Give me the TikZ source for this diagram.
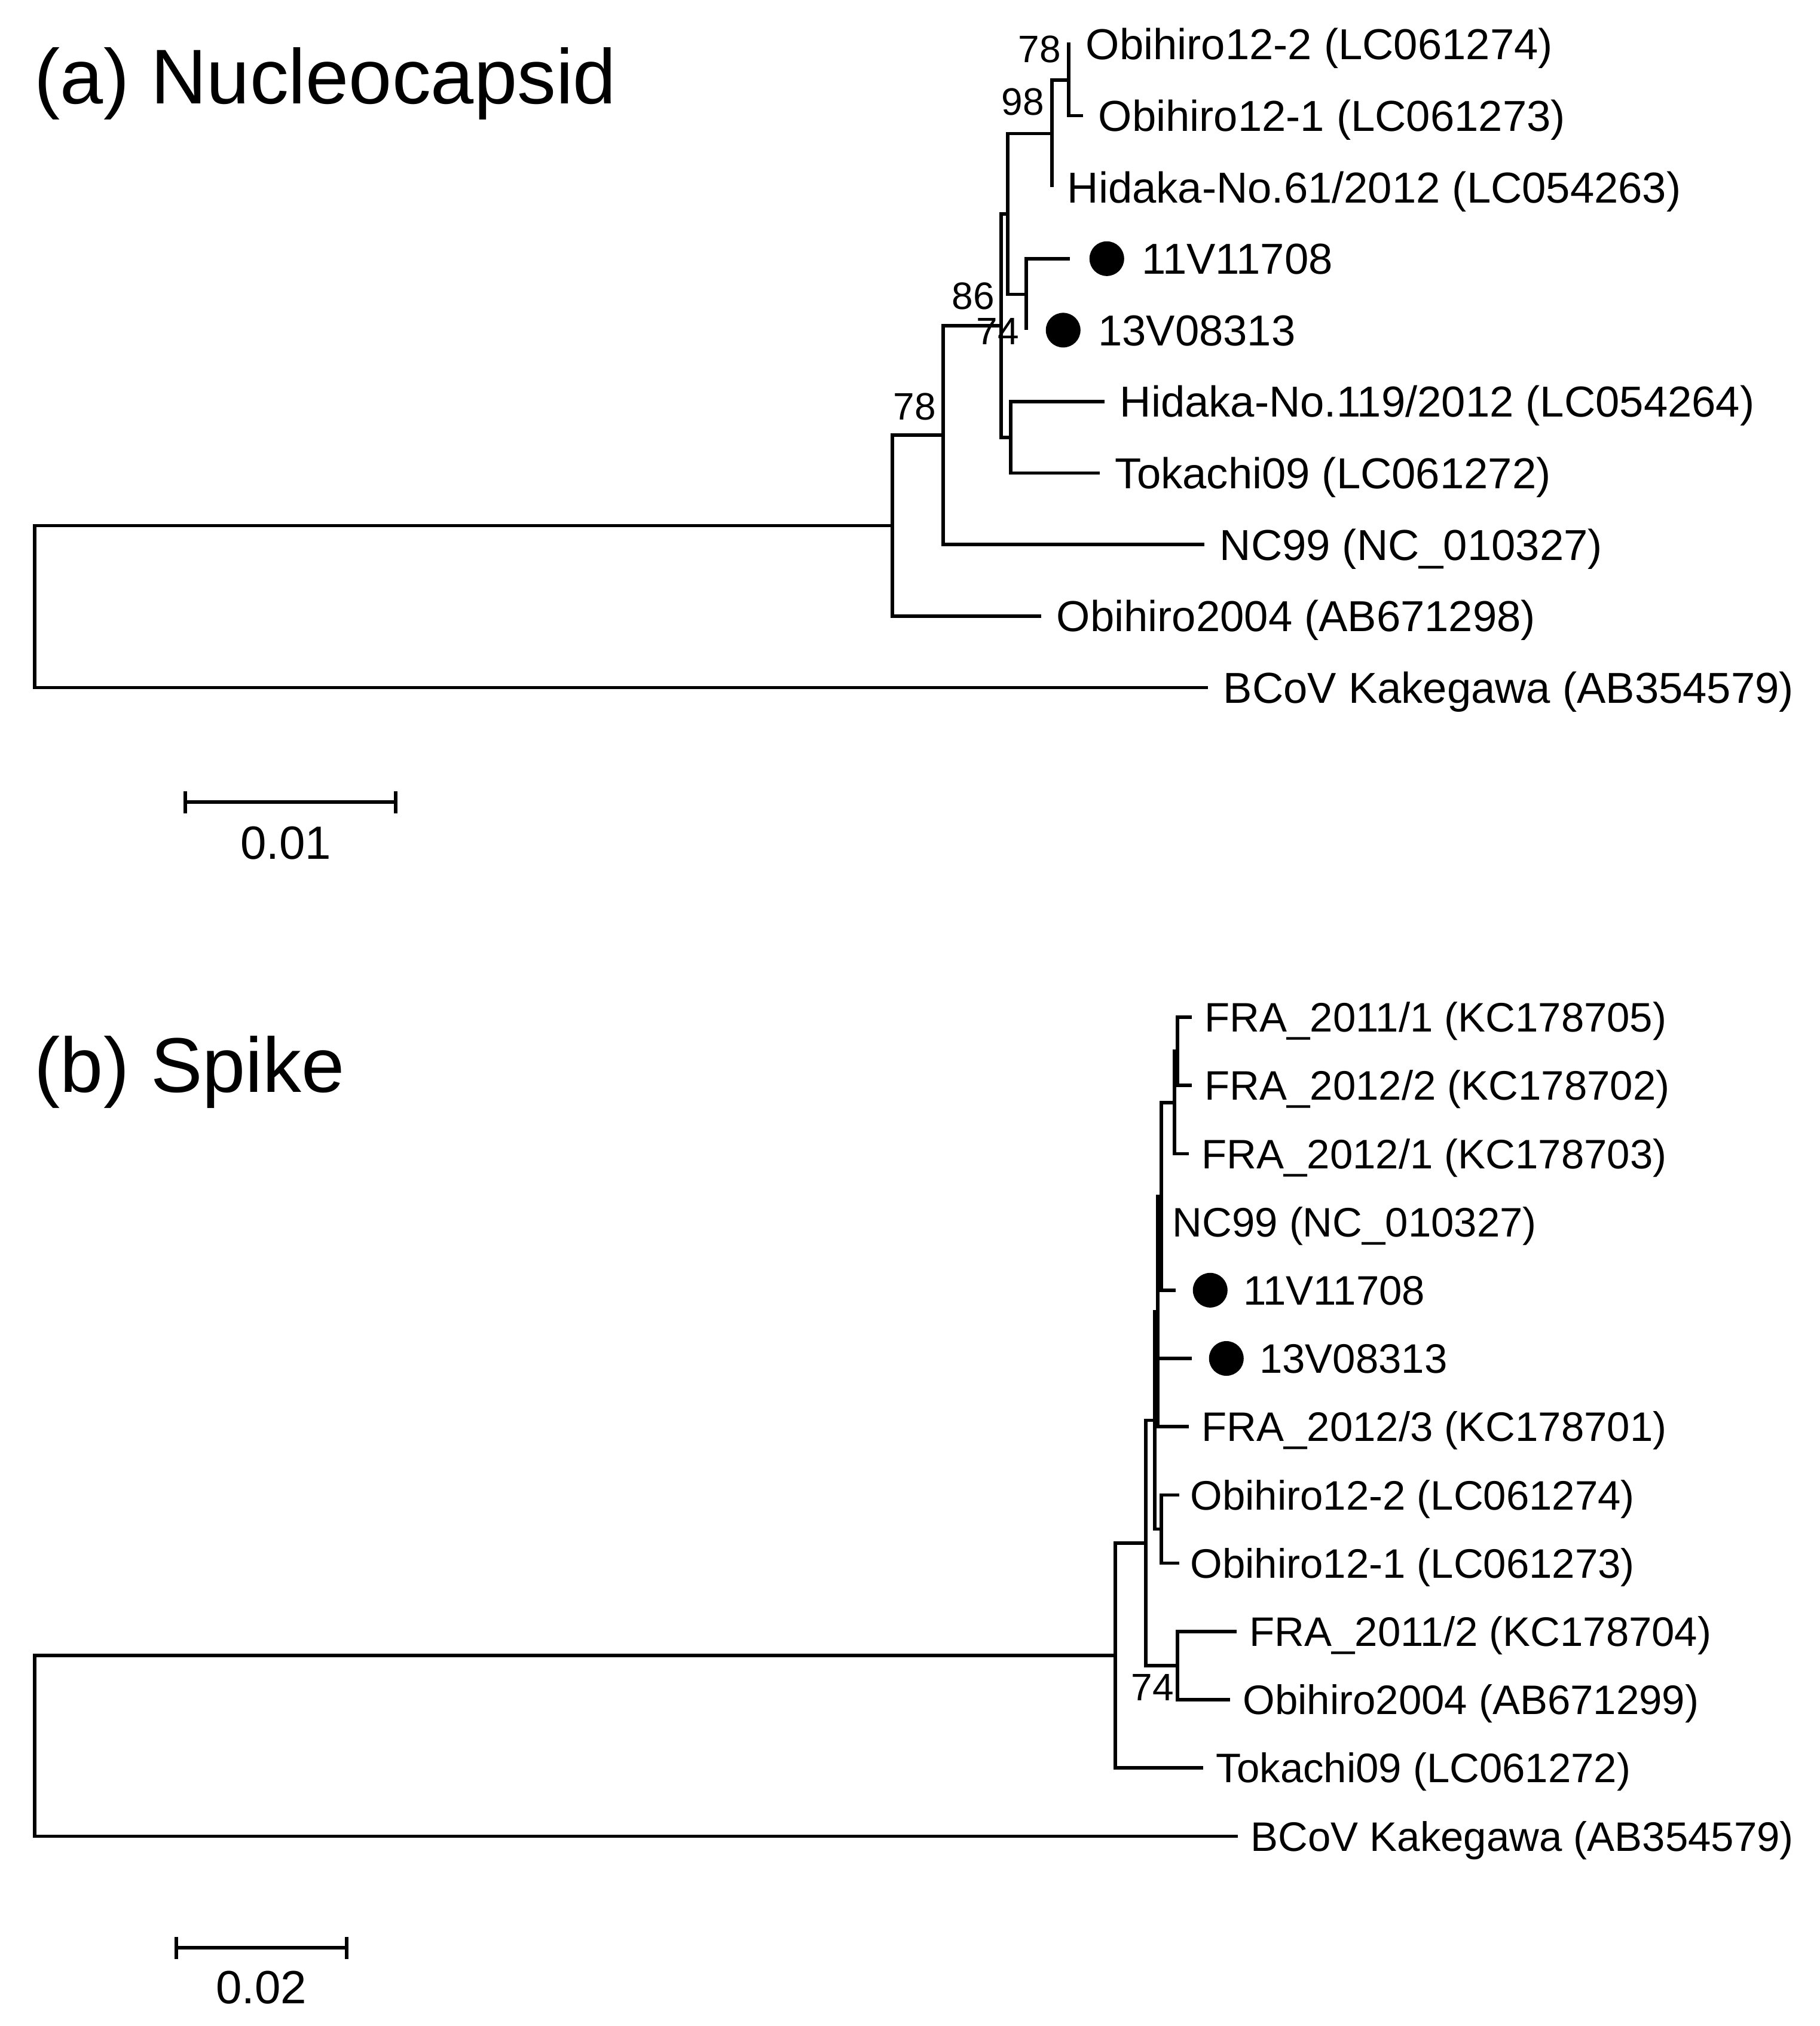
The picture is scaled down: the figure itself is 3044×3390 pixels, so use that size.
\documentclass[tikz,border=0pt]{standalone}
\usepackage{fontspec}
\setmainfont{Liberation Sans}
\usetikzlibrary{positioning}

\begin{document}
\begin{tikzpicture}[x=0.01cm, y=-0.01cm,
            rama/.style={line width=1.6pt},
            hoja/.style={anchor=west, inner sep=0pt, text height=14.75pt, text depth=0pt, font=\fontsize{20.6pt}{24pt}\selectfont},
            hojab/.style={hoja, text height=14pt, font=\fontsize{19.6pt}{23pt}\selectfont},
            punto/.style={circle, fill=black, inner sep=0pt, minimum size=0.58cm},
            boot/.style={inner sep=0pt, text height=13pt, text depth=0pt, font=\fontsize{18.2pt}{21pt}\selectfont},
            titulo/.style={anchor=base west, inner sep=0pt, font=\fontsize{36.9pt}{42pt}\selectfont},
            escala/.style={inner sep=0pt, text height=15.9pt, text depth=0pt, font=\fontsize{22.2pt}{26pt}\selectfont}]

            \useasboundingbox (0,0) rectangle (3044,3390);

            \node[titulo] (tita) at (57,173) {(a) Nucleocapsid};

            \coordinate (ar) at (58,1014.9);
            \coordinate (aa) at (1493,879.4);
            \coordinate (ab) at (1578,728);
            \coordinate (ac) at (1675,545);
            \coordinate (ad) at (1691,731.8);
            \coordinate (ae) at (1686,358);
            \coordinate (af) at (1760,223.5);
            \coordinate (ag) at (1788,133.8);
            \coordinate (ah) at (1717,492.6);

            \coordinate (at0) at (1791,74);
            \coordinate (at1) at (1812,193.6);
            \coordinate (at2) at (1760,313.2);
            \coordinate (at3) at (1790,432.8);
            \coordinate (at4) at (1717,552.4);
            \coordinate (at5) at (1848,672);
            \coordinate (at6) at (1840,791.6);
            \coordinate (at7) at (2015,911.2);
            \coordinate (at8) at (1742,1030.8);
            \coordinate (at9) at (2021,1150.4);

            \draw[rama] (ar) |- (aa) (ar) |- (at9);
            \draw[rama] (aa) |- (ab) (aa) |- (at8);
            \draw[rama] (ab) |- (ac) (ab) |- (at7);
            \draw[rama] (ac) |- (ae) (ac) |- (ad);
            \draw[rama] (ad) |- (at5) (ad) |- (at6);
            \draw[rama] (ae) |- (af) (ae) |- (ah);
            \draw[rama] (af) |- (ag) (af) |- (at2);
            \draw[rama] (ag) |- (at0) (ag) |- (at1);
            \draw[rama] (ah) |- (at3) (ah) |- (at4);

            \node[hoja, right=0.25cm of at0] (ha0) {Obihiro12-2 (LC061274)};
            \node[hoja, right=0.25cm of at1] (ha1) {Obihiro12-1 (LC061273)};
            \node[hoja, right=0.25cm of at2] (ha2) {Hidaka-No.61/2012 (LC054263)};
            \node[punto, right=0.32cm of at3] (pa3) {};
            \node[hoja, right=0.28cm of pa3] (ha3) {11V11708};
            \node[punto, right=0.32cm of at4] (pa4) {};
            \node[hoja, right=0.28cm of pa4] (ha4) {13V08313};
            \node[hoja, right=0.25cm of at5] (ha5) {Hidaka-No.119/2012 (LC054264)};
            \node[hoja, right=0.25cm of at6] (ha6) {Tokachi09 (LC061272)};
            \node[hoja, right=0.25cm of at7] (ha7) {NC99 (NC\_010327)};
            \node[hoja, right=0.25cm of at8] (ha8) {Obihiro2004 (AB671298)};
            \node[hoja, right=0.25cm of at9] (ha9) {BCoV Kakegawa (AB354579)};

            \node[boot] (bag) at (1739,82) {78};
            \node[boot] (baf) at (1711,170) {98};
            \node[boot] (bac) at (1628,495) {86};
            \node[boot] (bah) at (1669,554) {74};
            \node[boot] (bab) at (1530,680) {78};

            \coordinate (ea1) at (310,1342);
            \coordinate (ea2) at (662,1342);
            \draw[rama] (ea1) -- (ea2);
            \draw[rama] (ea1) ++(0,-18.5) -- ++(0,37);
            \draw[rama] (ea2) ++(0,-18.5) -- ++(0,37);
            \node[escala] (la) at (478,1410) {0.01};

            \node[titulo] (titb) at (57,1827) {(b) Spike};

            \coordinate (br) at (58,2921);
            \coordinate (bx) at (1866,2770);
            \coordinate (by) at (1917,2581.7);
            \coordinate (bz) at (1970,2786.9);
            \coordinate (bw) at (1932,2376.5);
            \coordinate (bo) at (1943,2558.5);
            \coordinate (bu) at (1937,2194.5);
            \coordinate (bv) at (1943,2001.8);
            \coordinate (bq) at (1965,1844.8);
            \coordinate (bp) at (1970,1759.1);

            \coordinate (bt0) at (1994,1702);
            \coordinate (bt1) at (1994,1816.2);
            \coordinate (bt2) at (1989,1930.4);
            \coordinate (bt3) at (1943,2044.6);
            \coordinate (bt4) at (1967,2158.8);
            \coordinate (bt5) at (1994,2273);
            \coordinate (bt6) at (1989,2387.2);
            \coordinate (bt7) at (1973,2501.4);
            \coordinate (bt8) at (1973,2615.6);
            \coordinate (bt9) at (2069,2729.8);
            \coordinate (bt10) at (2058,2844);
            \coordinate (bt11) at (2013,2958.2);
            \coordinate (bt12) at (2071,3072.4);

            \draw[rama] (br) |- (bx) (br) |- (bt12);
            \draw[rama] (bx) |- (by) (bx) |- (bt11);
            \draw[rama] (by) |- (bw) (by) |- (bz);
            \draw[rama] (bz) |- (bt9) (bz) |- (bt10);
            \draw[rama] (bw) |- (bu) (bw) |- (bo);
            \draw[rama] (bo) |- (bt7) (bo) |- (bt8);
            \draw[rama] (bu) |- (bv) (bu) |- (bt5) (bu) |- (bt6);
            \draw[rama] (bv) |- (bq) (bv) |- (bt3) (bv) |- (bt4);
            \draw[rama] (bq) |- (bp) (bq) |- (bt2);
            \draw[rama] (bp) |- (bt0) (bp) |- (bt1);

            \node[hojab, right=0.21cm of bt0] (hb0) {FRA\_2011/1 (KC178705)};
            \node[hojab, right=0.21cm of bt1] (hb1) {FRA\_2012/2 (KC178702)};
            \node[hojab, right=0.21cm of bt2] (hb2) {FRA\_2012/1 (KC178703)};
            \node[hojab, right=0.18cm of bt3] (hb3) {NC99 (NC\_010327)};
            \node[punto, right=0.28cm of bt4] (pb4) {};
            \node[hojab, right=0.25cm of pb4] (hb4) {11V11708};
            \node[punto, right=0.28cm of bt5] (pb5) {};
            \node[hojab, right=0.25cm of pb5] (hb5) {13V08313};
            \node[hojab, right=0.21cm of bt6] (hb6) {FRA\_2012/3 (KC178701)};
            \node[hojab, right=0.18cm of bt7] (hb7) {Obihiro12-2 (LC061274)};
            \node[hojab, right=0.18cm of bt8] (hb8) {Obihiro12-1 (LC061273)};
            \node[hojab, right=0.21cm of bt9] (hb9) {FRA\_2011/2 (KC178704)};
            \node[hojab, right=0.21cm of bt10] (hb10) {Obihiro2004 (AB671299)};
            \node[hojab, right=0.21cm of bt11] (hb11) {Tokachi09 (LC061272)};
            \node[hojab, right=0.21cm of bt12] (hb12) {BCoV Kakegawa (AB354579)};

            \node[boot] (bbz) at (1928,2823) {74};

            \coordinate (eb1) at (295,3259);
            \coordinate (eb2) at (580,3259);
            \draw[rama] (eb1) -- (eb2);
            \draw[rama] (eb1) ++(0,-18.5) -- ++(0,37);
            \draw[rama] (eb2) ++(0,-18.5) -- ++(0,37);
            \node[escala] (lb) at (437,3324) {0.02};
        \end{tikzpicture}
\end{document}
